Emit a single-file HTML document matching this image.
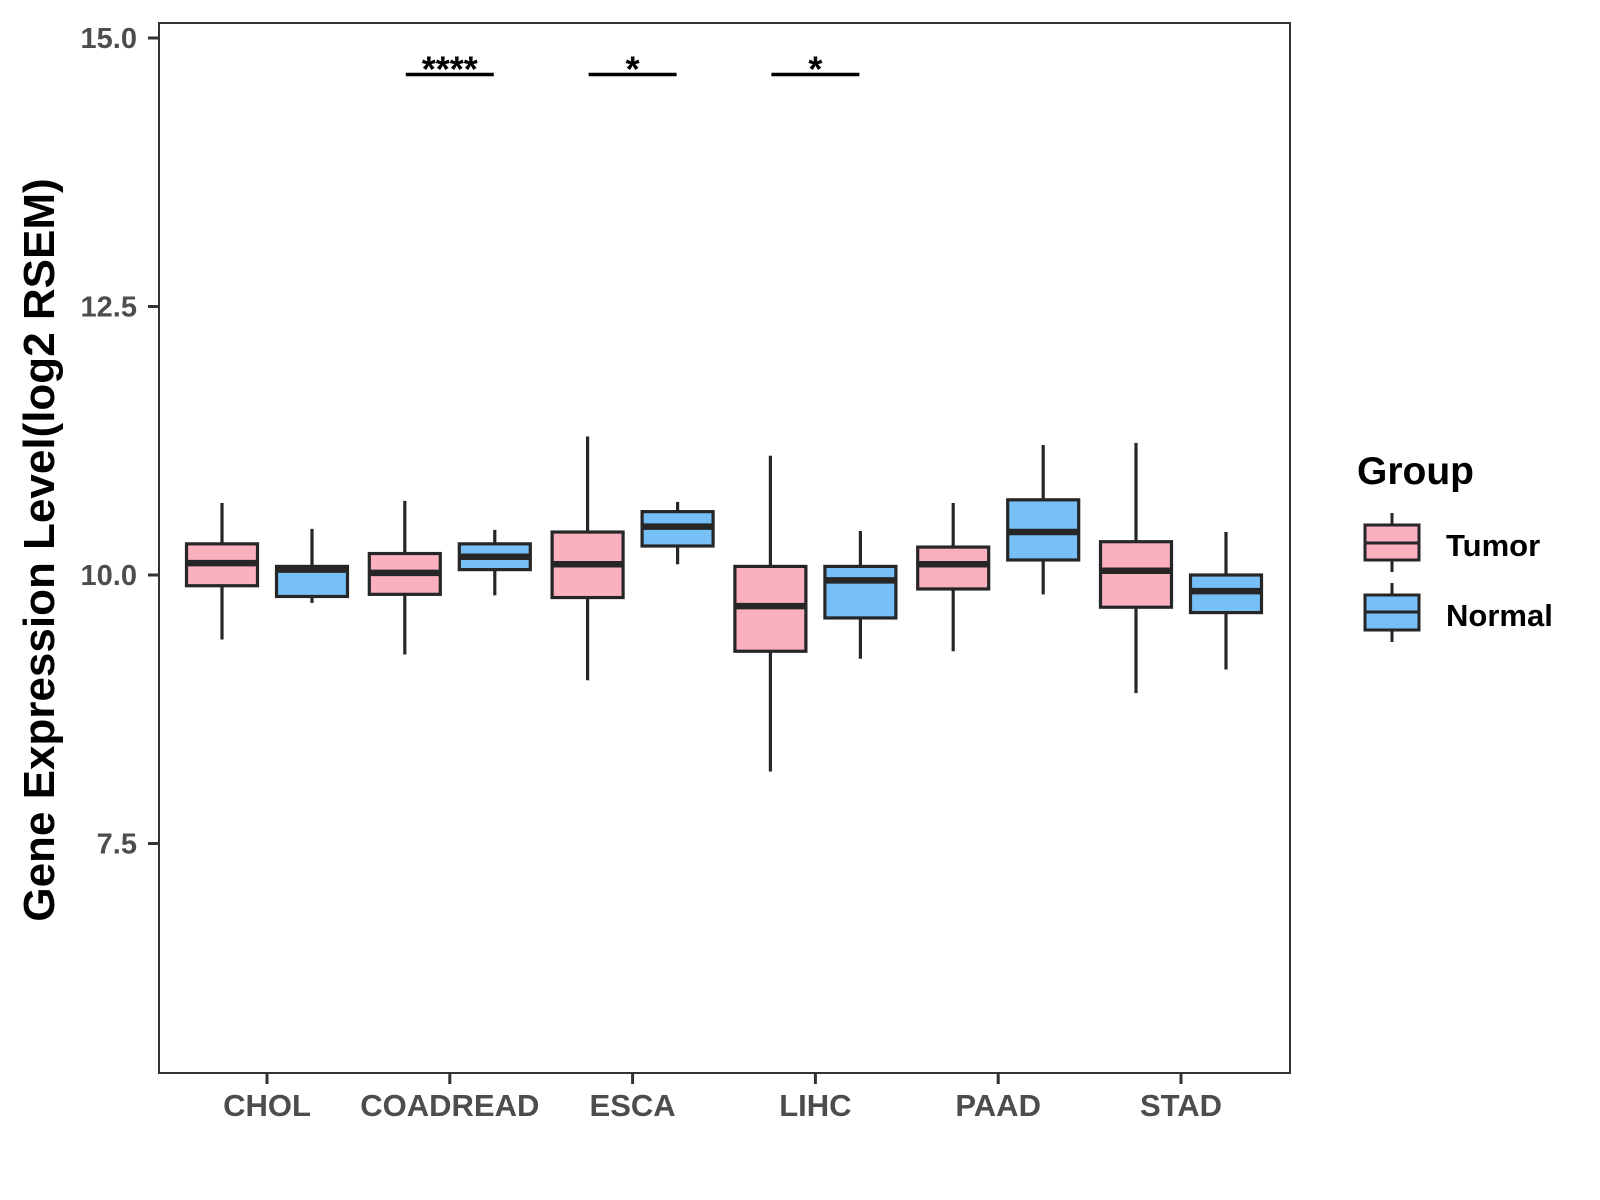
<!DOCTYPE html>
<html><head><meta charset="utf-8"><style>
body{margin:0;background:#fff;}
svg{display:block;font-family:"Liberation Sans",Arial,sans-serif;}
</style></head><body>
<svg id="chart" width="1600" height="1200" viewBox="0 0 1600 1200">
<rect x="0" y="0" width="1600" height="1200" fill="#fff"/>
<g id="marks"></g>
<rect x="159" y="23" width="1131" height="1050" fill="none" stroke="#333" stroke-width="2"/>
<text transform="translate(54,550) rotate(-90)" text-anchor="middle" font-size="44" font-weight="bold" fill="#000">Gene Expression Level(log2 RSEM)</text>
<g transform="translate(-7,0)">
<text x="1364" y="484" font-size="39" font-weight="bold" fill="#000">Group</text>
<g>
<line x1="1399" y1="513" x2="1399" y2="572" stroke="#262626" stroke-width="3"/>
<rect x="1372" y="525" width="54" height="35" fill="#fbb0c0" stroke="#262626" stroke-width="3"/>
<line x1="1372" y1="543" x2="1426" y2="543" stroke="#262626" stroke-width="3"/>
<text x="1453" y="556" font-size="31" font-weight="bold" fill="#000">Tumor</text>
</g>
<g>
<line x1="1399" y1="583" x2="1399" y2="642" stroke="#262626" stroke-width="3"/>
<rect x="1372" y="595" width="54" height="35" fill="#77c0f7" stroke="#262626" stroke-width="3"/>
<line x1="1372" y1="612" x2="1426" y2="612" stroke="#262626" stroke-width="3"/>
<text x="1453" y="626" font-size="31" font-weight="bold" fill="#000">Normal</text>
</g>
</g>
</svg>
<script>
const categories = ["CHOL","COADREAD","ESCA","LIHC","PAAD","STAD"];
const tumorLow  = [9.40, 9.26, 9.02, 8.17, 9.29, 8.90];
const tumorQ1   = [9.90, 9.82, 9.79, 9.29, 9.87, 9.70];
const tumorMed  = [10.11,10.02,10.10,9.71, 10.10,10.04];
const tumorQ3   = [10.29,10.20,10.40,10.08,10.26,10.31];
const tumorHigh = [10.67,10.69,11.29,11.11,10.67,11.23];
const normalLow  = [9.74, 9.81, 10.10,9.22, 9.82, 9.12];
const normalQ1   = [9.80, 10.05,10.27,9.60, 10.14,9.65];
const normalMed  = [10.05,10.17,10.45,9.95, 10.40,9.85];
const normalQ3   = [10.08,10.29,10.59,10.08,10.70,10.00];
const normalHigh = [10.43,10.42,10.68,10.41,11.21,10.40];
const yTicks = [7.5, 10.0, 12.5, 15.0];
const yTickLabels = ["7.5","10.0","12.5","15.0"];
const sigCategories = ["COADREAD","ESCA","LIHC"];
const sigLabels = ["****","*","*"];
const sigLevel = 14.66;

const NS="http://www.w3.org/2000/svg";
const g=document.getElementById('marks');
const svg=document.getElementById('chart');
function yS(v){return 38+(15-v)*107.4;}
function xS(i){return 267+i*182.8;}
function mk(tag,attrs,parent){const e=document.createElementNS(NS,tag);for(const k in attrs)e.setAttribute(k,attrs[k]);(parent||g).appendChild(e);return e;}
const bw=71, off=45;
function box(cx,lo,q1,md,q3,hi,fill,name){
  const grp=mk('g',{});
  
  
  mk('line',{x1:cx,x2:cx,y1:yS(hi),y2:yS(lo),stroke:'#262626','stroke-width':3.2},grp);
  mk('rect',{x:cx-bw/2,y:yS(q3),width:bw,height:yS(q1)-yS(q3),fill:fill,stroke:'#262626','stroke-width':3.2},grp);
  mk('line',{x1:cx-bw/2,x2:cx+bw/2,y1:yS(md),y2:yS(md),stroke:'#262626','stroke-width':6.5},grp);
}
categories.forEach((c,i)=>{
  box(xS(i)-off,tumorLow[i],tumorQ1[i],tumorMed[i],tumorQ3[i],tumorHigh[i],'#fbb0c0','box-tumor-'+c.toLowerCase());
  box(xS(i)+off,normalLow[i],normalQ1[i],normalMed[i],normalQ3[i],normalHigh[i],'#77c0f7','box-normal-'+c.toLowerCase());
  const t=mk('line',{x1:xS(i),x2:xS(i),y1:1073,y2:1084,stroke:'#333','stroke-width':3},svg);
  
  
  const l=mk('text',{x:xS(i),y:1116,'text-anchor':'middle','font-size':31,'font-weight':'bold',fill:'#4d4d4d'},svg);
  l.textContent=c;
  
  
});
yTicks.forEach((v,i)=>{
  const t=mk('line',{x1:148,x2:159,y1:yS(v),y2:yS(v),stroke:'#333','stroke-width':3},svg);
  
  
  const l=mk('text',{x:137,y:yS(v)+10,'text-anchor':'end','font-size':29,'font-weight':'bold',fill:'#4d4d4d'},svg);
  l.textContent=yTickLabels[i];
  
  
});
sigCategories.forEach((c,j)=>{
  const i=categories.indexOf(c);
  const ln=mk('line',{x1:xS(i)-44,x2:xS(i)+44,y1:yS(sigLevel),y2:yS(sigLevel),stroke:'#000','stroke-width':3.5});
  
  
  const tx=mk('text',{x:xS(i),y:yS(sigLevel)+7,'text-anchor':'middle','font-size':36,'font-weight':'bold',fill:'#000'});
  tx.textContent=sigLabels[j];
  
  
});
</script>
</body></html>
